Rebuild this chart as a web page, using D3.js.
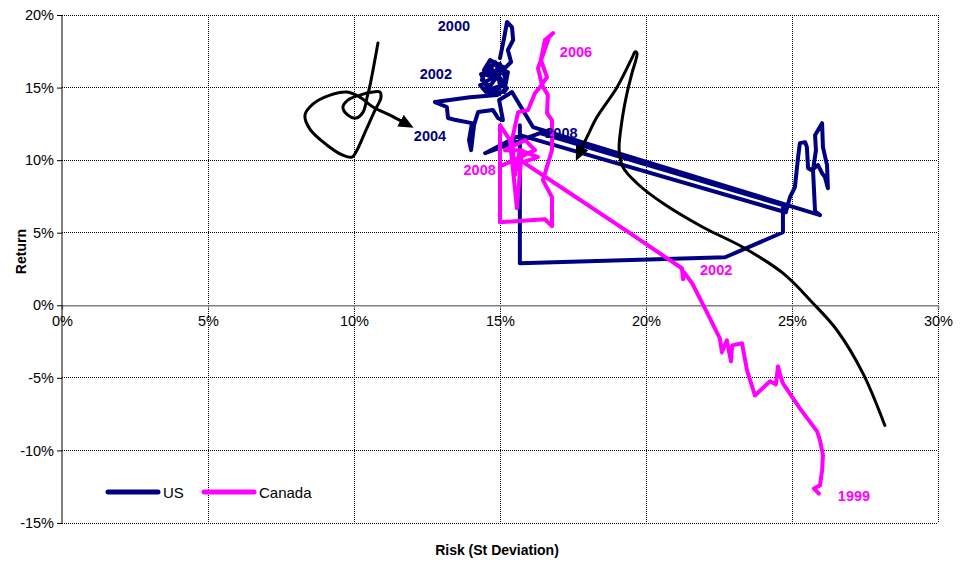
<!DOCTYPE html>
<html>
<head>
<meta charset="utf-8">
<script src="https://cdn.jsdelivr.net/npm/d3@7"></script>
<style>
  html, body { margin: 0; padding: 0; background: #fff; }
  svg { display: block; font-family: Arial, "Liberation Sans", sans-serif; }
</style>
</head>
<body>
<svg id="chart" width="963" height="563"></svg>
<script>
// ---------- data (risk %, return %) ----------
const xTicks = [0, 5, 10, 15, 20, 25, 30];
const yTicks = [-15, -10, -5, 0, 5, 10, 15, 20];

const usRisk = [15.00,15.14,15.24,15.41,15.45,15.27,15.38,15.17,14.66,14.45,14.93,14.66,14.38,14.55,15.00,15.21,14.86,14.52,14.32,14.73,15.10,
  14.83,14.52,15.07,14.76,14.35,14.59,15.00,14.90,15.27,15.14,
  15.24,14.90,
  13.97,12.77,13.18,13.22,13.49,14.04,13.94,14.01,14.11,14.25,14.76,14.93,15.10,14.97,15.41,16.13,
  25.96,25.79,25.72,25.82,25.79,26.03,26.06,26.20,26.23,26.13,26.03,25.89,25.68,25.55,25.51,25.45,25.27,25.21,25.10,24.93,24.79,
  15.68,14.49,16.37,24.69,24.69,22.71,15.68,15.68];
const usReturn = [17.03,18.41,19.52,19.17,18.28,17.59,16.76,16.34,16.90,16.21,15.86,15.10,15.52,16.48,16.62,15.52,14.69,14.69,15.17,15.66,16.07,
  16.76,15.87,15.52,16.21,15.93,14.83,15.11,16.35,16.07,14.69,
  14.97,14.48,
  14.34,14.00,13.66,12.90,12.76,12.55,11.38,10.69,12.41,13.31,13.45,12.90,12.76,14.14,14.69,12.28,
  6.21,6.48,9.31,10.69,11.72,12.55,10.90,9.66,8.07,8.83,9.10,9.66,9.31,9.45,10.90,11.24,11.17,10.21,8.14,7.45,6.41,
  11.72,10.48,11.86,6.90,5.03,3.31,2.90,12.41];

const caRisk = [25.92,25.75,25.96,26.03,26.06,25.96,25.86,25.27,24.69,24.62,24.52,24.45,24.25,23.73,23.46,23.29,22.95,22.91,22.77,22.60,22.53,22.02,21.58,21.30,21.27,21.23,19.45,17.40,
  15.79,16.30,15.68,15.51,15.41,15.62,15.96,16.20,16.37,16.61,16.40,16.54,16.82,16.68,16.47,16.30,16.44,16.64,16.61,16.78,16.78,16.47,16.78,16.78,16.54,15.00,15.00,15.34,15.58,15.75,15.17,15.86,16.20,15.10];
const caReturn = [-12.97,-12.62,-12.41,-11.38,-10.34,-9.31,-8.69,-7.10,-5.38,-4.97,-4.21,-5.45,-5.24,-6.21,-4.48,-2.62,-2.76,-3.86,-2.41,-3.24,-2.28,-0.21,1.52,2.28,1.79,2.55,4.97,7.72,
  9.86,10.21,10.69,8.97,11.38,13.31,13.45,14.62,15.03,15.72,16.90,18.28,18.76,18.48,17.24,16.34,15.17,14.48,13.24,12.76,10.69,8.62,7.45,5.45,5.93,5.72,12.41,11.38,6.69,10.69,10.69,11.38,10.69,9.66];

// hand-drawn annotation arrows
const arrow1Risk = [10.82,10.55,10.45,10.31,10.07,9.79,9.62,9.79,10.20,10.65,10.89,10.92,10.72,10.38,10.10,9.93,9.62,9.08,8.49,8.32,8.59,9.18,9.76,10.20,10.65,11.23,11.68];
const arrow1Return = [18.07,15.17,14.34,13.31,12.90,13.10,13.66,14.14,14.48,14.69,14.69,14.28,13.45,11.93,10.69,10.21,10.34,11.03,12.14,13.10,13.86,14.48,14.69,14.34,13.66,13.10,12.62];
const arrow2Risk = [28.18,27.43,26.54,25.72,24.69,23.32,21.95,20.58,19.69,19.21,19.08,19.18,19.35,19.52,19.69,19.62,19.55,19.01,18.32,18.01,17.77];
const arrow2Return = [-8.28,-4.69,-1.72,0.14,2.21,4.00,5.38,7.03,8.41,9.52,10.69,12.76,14.62,16.00,17.38,17.45,17.17,15.03,12.97,11.72,10.69];

const usLabels = ["2000", "2002", "2004", "2008"];
const usLabelRisk = [12.87, 12.25, 12.05, 16.55];
const usLabelReturn = [18.9, 15.6, 11.35, 11.55];
const caLabels = ["2006", "2008", "2002", "1999"];
const caLabelRisk = [17.05, 13.75, 21.85, 26.57];
const caLabelReturn = [17.1, 8.95, 2.07, -13.5];

const seriesNames = ["US", "Canada"];
const seriesColors = ["#000080", "#FF00FF"];

// ---------- layout ----------
const svg = d3.select("#chart");
const pLeft = 62, pRight = 938, pTop = 15, pBottom = 523;
const x = d3.scaleLinear().domain([0, 30]).range([pLeft, pRight]);
const y = d3.scaleLinear().domain([-15, 20]).range([pBottom, pTop]);
const pct = d => d + "%";

// gridlines
const grid = svg.append("g");
grid.selectAll("line.v").data(xTicks.filter(d => d > 0)).enter().append("line")
  .attr("x1", d => x(d)).attr("x2", d => x(d)).attr("y1", pTop).attr("y2", pBottom)
  .attr("stroke", "#000").attr("stroke-width", 1).attr("stroke-dasharray", "1,1").attr("shape-rendering", "crispEdges");
grid.selectAll("line.h").data(yTicks.filter(d => d !== 0)).enter().append("line")
  .attr("x1", pLeft).attr("x2", pRight).attr("y1", d => y(d)).attr("y2", d => y(d))
  .attr("stroke", "#000").attr("stroke-width", 1).attr("stroke-dasharray", "1,1").attr("shape-rendering", "crispEdges");

// zero line (x-axis)
const xAxis = d3.axisBottom(x).tickValues(xTicks).tickFormat(pct).tickSize(4).tickPadding(6);
const gx = svg.append("g").attr("transform", `translate(0,${y(0)})`).call(xAxis);
gx.select(".domain").attr("stroke", "#808080").attr("stroke-width", 1.5);
gx.selectAll(".tick line").attr("stroke", "#808080");
gx.selectAll("text").attr("font-size", "14.5px").attr("fill", "#000").attr("font-family", "Arial, 'Liberation Sans', sans-serif");

// y axis
const yAxis = d3.axisLeft(y).tickValues(yTicks).tickFormat(pct).tickSize(5).tickPadding(3);
const gy = svg.append("g").attr("transform", `translate(${pLeft},0)`).call(yAxis);
gy.select(".domain").attr("stroke", "#000").attr("d", `M0,${pTop}V${pBottom}`);
gy.selectAll(".tick line").attr("stroke", "#000");
gy.selectAll("text").attr("font-size", "14.5px").attr("fill", "#000").attr("font-family", "Arial, 'Liberation Sans', sans-serif");

// series
const line = d3.line().x(d => x(d[0])).y(d => y(d[1]));
const usPts = usRisk.map((r, i) => [r, usReturn[i]]);
const caPts = caRisk.map((r, i) => [r, caReturn[i]]);
[usPts, caPts].forEach((pts, i) => {
  svg.append("path").datum(pts).attr("d", line)
    .attr("fill", "none").attr("stroke", seriesColors[i]).attr("stroke-width", 4)
    .attr("stroke-linejoin", "round").attr("stroke-linecap", "round");
});

// arrows
svg.append("defs").append("marker")
  .attr("id", "ah").attr("viewBox", "0 0 10 10").attr("refX", 2).attr("refY", 5)
  .attr("markerWidth", 5).attr("markerHeight", 4.5).attr("markerUnits", "strokeWidth").attr("orient", "auto")
  .attr("preserveAspectRatio", "none")
  .append("path").attr("d", "M0,0L10,5L0,10Z").attr("fill", "#000");
const curve = d3.line().x(d => x(d[0])).y(d => y(d[1])).curve(d3.curveCatmullRom.alpha(0.5));
[[arrow1Risk, arrow1Return], [arrow2Risk, arrow2Return]].forEach(([rs, ret]) => {
  const pts = rs.map((r, i) => [r, ret[i]]);
  svg.append("path").datum(pts).attr("d", curve)
    .attr("fill", "none").attr("stroke", "#000").attr("stroke-width", 3)
    .attr("stroke-linecap", "round").attr("marker-end", "url(#ah)");
});

// year labels
const lab = svg.append("g").attr("font-size", "14.5px").attr("font-weight", "bold");
usLabels.forEach((t, i) => lab.append("text").attr("x", x(usLabelRisk[i])).attr("y", y(usLabelReturn[i])).attr("fill", seriesColors[0]).text(t));
caLabels.forEach((t, i) => lab.append("text").attr("x", x(caLabelRisk[i])).attr("y", y(caLabelReturn[i])).attr("fill", seriesColors[1]).text(t));

// axis titles
svg.append("text").attr("x", (pLeft + pRight) / 2 - 3).attr("y", 555).attr("text-anchor", "middle")
  .attr("font-size", "14px").attr("font-weight", "bold").text("Risk (St Deviation)");
svg.append("text").attr("transform", `translate(26,${y(3.7)}) rotate(-90)`).attr("text-anchor", "middle")
  .attr("font-size", "14px").attr("font-weight", "bold").text("Return");

// legend
const leg = svg.append("g");
const legX = [108, 204];
seriesNames.forEach((n, i) => {
  leg.append("line").attr("x1", legX[i]).attr("x2", legX[i] + 50).attr("y1", 492).attr("y2", 492)
    .attr("stroke", seriesColors[i]).attr("stroke-width", 5).attr("stroke-linecap", "round");
  leg.append("text").attr("x", legX[i] + 55).attr("y", 497.5).attr("font-size", "15px").text(n);
});
</script>
</body>
</html>
